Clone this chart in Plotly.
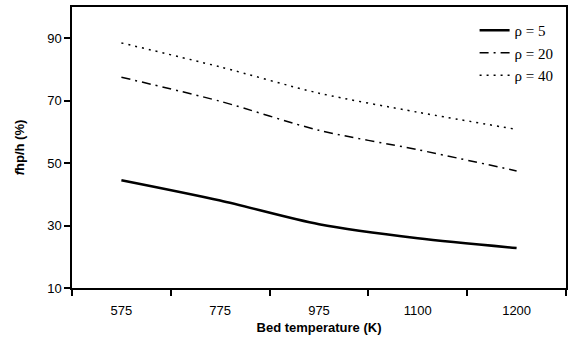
import plotly.graph_objects as go

temps = ["575", "775", "975", "1100", "1200"]
rho5 = [44.5, 38.0, 30.4, 25.9, 22.8]
rho20 = [77.5, 69.8, 60.5, 54.3, 47.5]
rho40 = [88.5, 80.8, 72.4, 66.3, 60.8]
names = ["ρ = 5", "ρ = 20", "ρ = 40"]

fig = go.Figure()
fig.add_trace(go.Scatter(x=temps, y=rho5, mode="lines", name=names[0],
                         line=dict(color="black", width=2.5, shape="spline", smoothing=0.8)))
fig.add_trace(go.Scatter(x=temps, y=rho20, mode="lines", name=names[1],
                         line=dict(color="black", width=1.5, dash="9px,5px,2px,5px", shape="spline", smoothing=0.8)))
fig.add_trace(go.Scatter(x=temps, y=rho40, mode="lines", name=names[2],
                         line=dict(color="black", width=1.5, dash="2px,5px", shape="spline", smoothing=0.8)))

fig.update_layout(
    width=581, height=342,
    margin=dict(l=72, r=15, t=5, b=54),
    plot_bgcolor="white", paper_bgcolor="white",
    font=dict(family="Arial, Liberation Sans", size=13, color="black"),
    showlegend=True,
    legend=dict(x=0.985, y=0.975, xanchor="right", yanchor="top",
                font=dict(family="Liberation Serif, Times New Roman, serif", size=15),
                bgcolor="rgba(0,0,0,0)", tracegroupgap=0),
    xaxis=dict(type="category", range=[-0.5, 4.5], showline=True, linecolor="black", linewidth=1.5, mirror=True,
               ticks="outside", tickson="boundaries", ticklen=6, tickcolor="black", tickwidth=1.5,
               ticklabelstandoff=10, showgrid=False,
               title=dict(text="<b>Bed temperature (K)</b>", font=dict(size=13), standoff=6)),
    yaxis=dict(range=[10, 100], tickvals=[10, 30, 50, 70, 90], showline=True, linecolor="black",
               linewidth=1.5, mirror=True, ticks="outside", ticklen=6, tickcolor="black", tickwidth=1.5,
               showgrid=False, zeroline=False,
               title=dict(text="<b><i>f</i>hp/h (%)</b>", font=dict(size=13), standoff=20)),
)
fig.write_html("out.html")
